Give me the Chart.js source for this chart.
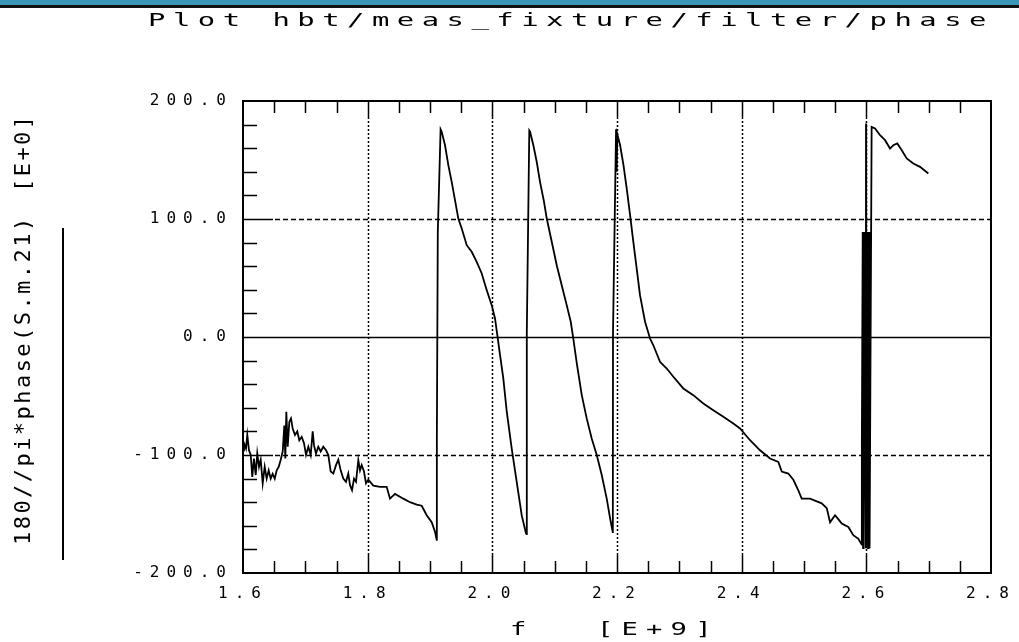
<!DOCTYPE html>
<html>
<head>
<meta charset="utf-8">
<script src="https://cdn.jsdelivr.net/npm/chart.js@4.4.0/dist/chart.umd.min.js"></script>
<style>
  html, body { margin: 0; padding: 0; background: #fff; }
  #wrap { position: relative; width: 1019px; height: 642px; overflow: hidden; }
  #topbar { position: absolute; left: 0; top: 0; width: 1019px; height: 5px; background: #3b97b8; }
  #topline { position: absolute; left: 0; top: 5px; width: 1019px; height: 3px; background: #111; }
  #chart { position: absolute; left: 0; top: 0; }
  .txt { position: absolute; font-family: 'DejaVu Sans Mono', monospace; color: #000; white-space: pre; line-height: 1; }
  #title { left: 148px; top: 12px; font-size: 17px; letter-spacing: 4.4px; transform-origin: 0 0; transform: scaleX(1.7); }
  .ylab { left: 12px; font-size: 22px; letter-spacing: 2.45px; transform-origin: 0 0; transform: rotate(-90deg); }
  #ylabMain { top: 545px; }
  #ylabExp { top: 192px; }
  #ylabLine { position: absolute; left: 62px; top: 228px; width: 2px; height: 332px; background: #000; }
  .xlab { top: 621px; font-size: 17px; letter-spacing: 5.1px; transform-origin: 0 0; transform: scaleX(1.6); }
  #xlabF { left: 510px; }
  #xlabE { left: 597px; }
</style>
</head>
<body>
<div id="wrap">
  <div id="topbar"></div>
  <div id="topline"></div>
  <canvas id="chart" width="1019" height="642"></canvas>
  <div class="txt" id="title">Plot hbt/meas_fixture/filter/phase</div>
  <div class="txt ylab" id="ylabMain">180//pi*phase(S.m.21)</div>
  <div class="txt ylab" id="ylabExp">[E+0]</div>
  <div id="ylabLine"></div>
  <div class="txt xlab" id="xlabF">f</div>
  <div class="txt xlab" id="xlabE">[E+9]</div>
</div>
<script>
// frequency in GHz, phase in degrees
const branch1 = [
    [1.6000, -96], [1.6016, -90], [1.6048, -94.5], [1.6069, -83], [1.6096, -96], [1.6124, -100],
    [1.6149, -118.5], [1.6176, -103], [1.6204, -117], [1.6229, -98.7], [1.6257, -110], [1.6284, -104],
    [1.6316, -124], [1.6348, -110], [1.6380, -120], [1.6412, -113], [1.6444, -120], [1.6476, -116],
    [1.6509, -120], [1.6541, -113], [1.6573, -110], [1.6605, -104], [1.6637, -97], [1.6663, -75],
    [1.6679, -103], [1.6695, -63.4], [1.6717, -93], [1.6743, -72], [1.6770, -69], [1.6797, -77.5],
    [1.6834, -83], [1.6871, -80], [1.6903, -87.5], [1.6942, -84.6], [1.6979, -90], [1.7011, -100],
    [1.7048, -93], [1.7086, -100], [1.7118, -80], [1.7139, -91.7], [1.7171, -98.7], [1.7208, -93],
    [1.7247, -97], [1.7288, -93], [1.7332, -96], [1.7369, -100], [1.7407, -114], [1.7449, -115.7],
    [1.7492, -108.6], [1.7529, -104], [1.7567, -113], [1.7609, -120], [1.7652, -122.7], [1.7689, -115.7],
    [1.7717, -125.6], [1.7749, -129.8], [1.7781, -120], [1.7813, -122.7], [1.7850, -104.4], [1.7877, -113],
    [1.7904, -108.6], [1.7941, -114], [1.7973, -124], [1.8010, -121], [1.8091, -126], [1.8198, -127],
    [1.8305, -127], [1.8358, -137], [1.8439, -133], [1.8572, -137], [1.8679, -140], [1.8787, -142],
    [1.8867, -143], [1.8947, -151], [1.9027, -157], [1.9080, -165], [1.9107, -172]
];
const branch2 = [
    [1.9110, -85], [1.9125, 89], [1.9170, 176], [1.9188, 174], [1.9241, 162.5], [1.9294, 145.6],
    [1.9348, 131.5], [1.9401, 116], [1.9454, 100.4], [1.9509, 92], [1.9589, 77.8], [1.9669, 72.2],
    [1.9749, 63.7], [1.9830, 53.8], [1.9910, 39.7], [1.9990, 27], [2.0043, 15.7], [2.0080, 1.5],
    [2.0123, -15], [2.0176, -35], [2.0231, -63], [2.0311, -94.5], [2.0391, -122.7], [2.0471, -151],
    [2.0540, -166.5], [2.0551, -167]
];
const branch3 = [
    [2.0553, 4], [2.0593, 175], [2.0605, 174], [2.0658, 162.5], [2.0712, 148.5], [2.0765, 131.5],
    [2.0829, 114.6], [2.0873, 100.4], [2.0953, 80.7], [2.1033, 60.8], [2.1113, 43.9], [2.1193, 27],
    [2.1258, 12.9], [2.1299, -1.3], [2.1354, -22], [2.1434, -49], [2.1514, -69], [2.1594, -86],
    [2.1675, -100], [2.1755, -117], [2.1835, -137], [2.1899, -156.6], [2.1931, -165], [2.1933, -166]
];
const branch4 = [
    [2.1936, 4], [2.1985, 176], [2.1995, 140], [2.2005, 172], [2.2050, 162.5], [2.2104, 145.6],
    [2.2156, 125.8], [2.2210, 103.2], [2.2262, 80.7], [2.2316, 58], [2.2369, 35.4], [2.2450, 12.9],
    [2.2530, -1.3], [2.2583, -7], [2.2690, -21], [2.2798, -26.7], [2.2904, -33.7], [2.3064, -43.6],
    [2.3224, -49.3], [2.3385, -56.4], [2.3545, -62], [2.3706, -67.6], [2.3866, -73.3], [2.3974, -77.5],
    [2.4134, -87.5], [2.4295, -96], [2.4455, -103], [2.4588, -105.8], [2.4643, -114], [2.4748, -115.7],
    [2.4829, -121], [2.4909, -130], [2.4963, -137], [2.5096, -137], [2.5284, -141], [2.5365, -145],
    [2.5418, -157], [2.5498, -151], [2.5605, -158], [2.5711, -161], [2.5791, -168], [2.5872, -171],
    [2.5926, -176]
];
// dense wrap-around chatter near 2.6 GHz
const wrapCluster = [
    [2.5928, -89], [2.5942, 89], [2.5948, -179], [2.5954, 89], [2.5960, -179], [2.5966, 89],
    [2.5992, -179], [2.5995, 181], [2.5998, -179], [2.6022, 89], [2.6028, -179], [2.6034, 89],
    [2.6040, -179], [2.6046, 89], [2.6052, -179], [2.6085, 178]
];
const branch5 = [
    [2.6140, 176.7], [2.6220, 171], [2.6300, 166.8], [2.6380, 159.7], [2.6433, 162.5], [2.6497, 164],
    [2.6568, 158.3], [2.6648, 151.3], [2.6754, 147], [2.6861, 144.2], [2.6995, 138.6]
];

const xTickValues = [1.6, 1.8, 2.0, 2.2, 2.4, 2.6, 2.8];
const yTickValues = [-200, -100, 0, 100, 200];
const xMinorStep = 0.05;
const yMinorStep = 20;

const tracePoints = [branch1, branch2, branch3, branch4, wrapCluster, branch5]
    .flat()
    .map(([f, p]) => ({ x: f, y: p }));

const tickFont = { family: "'DejaVu Sans Mono', monospace", size: 16 };

// grid, inward ticks and the box, drawn through the chart's scales
const plotFrame = {
    id: 'plotFrame',
    beforeDraw(chart) {
        chart.ctx.letterSpacing = '7px';
    },
    beforeDatasetsDraw(chart) {
        const { ctx, chartArea: a, scales: { x, y } } = chart;
        ctx.save();
        ctx.strokeStyle = '#000';
        ctx.lineWidth = 1.5;

        // horizontal grid
        yTickValues.forEach(v => {
            if (v === -200 || v === 200) return;
            const py = Math.round(y.getPixelForValue(v)) + 0.5;
            ctx.setLineDash([]);
            ctx.beginPath();
            if (v === 0) {
                ctx.moveTo(a.left, py);
                ctx.lineTo(a.right, py);
                ctx.stroke();
            } else {
                ctx.moveTo(a.left, py);
                ctx.lineTo(a.left + 30, py);
                ctx.stroke();
                ctx.setLineDash([5, 3]);
                ctx.beginPath();
                ctx.moveTo(a.left + 32, py);
                ctx.lineTo(a.right, py);
                ctx.stroke();
            }
        });

        // vertical grid
        xTickValues.forEach(v => {
            if (v === 1.6 || v === 2.8) return;
            const px = Math.round(x.getPixelForValue(v)) + 0.5;
            ctx.setLineDash([]);
            ctx.beginPath();
            ctx.moveTo(px, a.bottom);
            ctx.lineTo(px, a.bottom - 18);
            ctx.moveTo(px, a.top);
            ctx.lineTo(px, a.top + 18);
            ctx.stroke();
            ctx.setLineDash([2, 2]);
            ctx.beginPath();
            ctx.moveTo(px, a.bottom - 18);
            ctx.lineTo(px, a.top + 18);
            ctx.stroke();
        });
        ctx.restore();
    },
    afterDatasetsDraw(chart) {
        const { ctx, chartArea: a, scales: { x, y } } = chart;
        ctx.save();
        ctx.strokeStyle = '#000';
        ctx.setLineDash([]);
        ctx.lineWidth = 1.5;

        // minor ticks on the left edge
        ctx.beginPath();
        for (let v = -200 + yMinorStep; v < 200; v += yMinorStep) {
            if (v % 100 === 0) continue;
            const py = Math.round(y.getPixelForValue(v)) + 0.5;
            ctx.moveTo(a.left, py);
            ctx.lineTo(a.left + 14, py);
        }
        // minor ticks on bottom and top edges
        for (let i = 1; i < 24; i++) {
            if (i % 4 === 0) continue;
            const px = Math.round(x.getPixelForValue(1.6 + i * xMinorStep)) + 0.5;
            ctx.moveTo(px, a.bottom);
            ctx.lineTo(px, a.bottom - 12);
            ctx.moveTo(px, a.top);
            ctx.lineTo(px, a.top + 12);
        }
        ctx.stroke();

        // box
        ctx.lineWidth = 2;
        ctx.strokeRect(a.left, a.top, a.right - a.left, a.bottom - a.top);
        ctx.restore();
    },
    afterDraw(chart) {
        chart.ctx.letterSpacing = '0px';
    }
};

const chart = new Chart(document.getElementById('chart').getContext('2d'), {
    type: 'line',
    data: {
        datasets: [{
            data: tracePoints,
            borderColor: '#000',
            borderWidth: 1.8,
            pointRadius: 0,
            tension: 0,
            fill: false
        }]
    },
    options: {
        responsive: false,
        animation: false,
        layout: { padding: { top: 101, right: 28, left: 0, bottom: 0 } },
        plugins: {
            legend: { display: false },
            tooltip: { enabled: false }
        },
        scales: {
            x: {
                type: 'linear',
                min: 1.6,
                max: 2.8,
                afterBuildTicks: s => { s.ticks = xTickValues.map(v => ({ value: v })); },
                afterFit: s => { s.height = 69; },
                ticks: {
                    callback: v => v.toFixed(1),
                    font: tickFont,
                    color: '#000',
                    padding: 3,
                    maxRotation: 0,
                    autoSkip: false
                },
                grid: { display: false },
                border: { display: false }
            },
            y: {
                min: -200,
                max: 200,
                afterBuildTicks: s => { s.ticks = yTickValues.map(v => ({ value: v })); },
                afterFit: s => { s.width = 243; },
                ticks: {
                    callback: v => v.toFixed(1),
                    font: tickFont,
                    color: '#000',
                    padding: 2,
                    autoSkip: false
                },
                grid: { display: false },
                border: { display: false }
            }
        }
    },
    plugins: [plotFrame]
});
</script>
</body>
</html>
